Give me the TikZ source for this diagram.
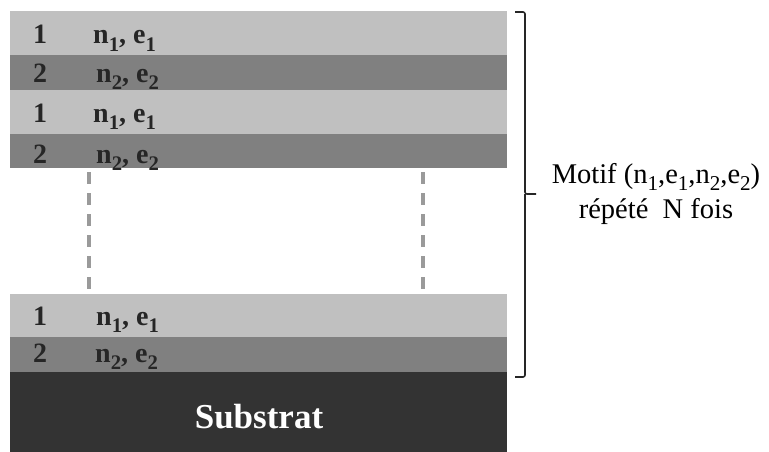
\documentclass[tikz,border=0pt]{standalone}
\usepackage{fontspec}
\usepackage{graphicx}
\setmainfont{Liberation Serif}
\definecolor{lightl}{HTML}{C0C0C0}
\definecolor{darkl}{HTML}{808080}
\definecolor{subc}{HTML}{333333}
\definecolor{dashc}{HTML}{9A9A9A}
\newcommand\lsub[1]{\raisebox{-0.27em}{\scalebox{0.74}{#1}}}
\begin{document}
\begin{tikzpicture}[x=1pt,y=-1pt,
  lab/.style={font=\fontsize{28}{32}\selectfont\bfseries, text=black!85, inner sep=0pt, anchor=base},
  labw/.style={lab, anchor=base west},
  dashl/.style={draw=dashc, line width=4.5pt, dash pattern=on 12pt off 9pt},
  side/.style={font=\fontsize{28.5}{32}\selectfont, inner sep=0pt, anchor=base, align=center}]
\useasboundingbox (0,0) rectangle (769,452);
% top group
\fill[lightl] (10,11) rectangle (507,55);
\fill[darkl] (10,55) rectangle (507,90);
\fill[lightl] (10,90) rectangle (507,134);
\fill[darkl] (10,134) rectangle (507,168);
% bottom group
\fill[lightl] (10,294) rectangle (507,337);
\fill[darkl] (10,337) rectangle (507,372);
\fill[subc] (10,372) rectangle (507,452);
% labels
\node[lab] (a1) at (40,44) {1};
\node[labw] (b1) at (93,44) {n\lsub{1}, e\lsub{1}};
\node[lab] (a2) at (40,82) {2};
\node[labw] (b2) at (96,82) {n\lsub{2}, e\lsub{2}};
\node[lab] (a3) at (40,122) {1};
\node[labw] (b3) at (93,122) {n\lsub{1}, e\lsub{1}};
\node[lab] (a4) at (40,163) {2};
\node[labw] (b4) at (96,163) {n\lsub{2}, e\lsub{2}};
\node[lab] (a5) at (40,325) {1};
\node[labw] (b5) at (96,325) {n\lsub{1}, e\lsub{1}};
\node[lab] (a6) at (40,362) {2};
\node[labw] (b6) at (95,362) {n\lsub{2}, e\lsub{2}};
\node[lab, text=white, font=\fontsize{35}{40}\selectfont\bfseries] (sub) at (259,428) {Substrat};
% dashed
\coordinate (d1a) at (89,172); \coordinate (d1b) at (89,293);
\coordinate (d2a) at (423,172); \coordinate (d2b) at (423,293);
\draw[dashl] (d1a) -- (d1b);
\draw[dashl] (d2a) -- (d2b);
% brace
\coordinate (bt) at (515,12); \coordinate (bb) at (515,377); \coordinate (tip) at (536,194);
\draw[line width=1.6pt, black!85, rounded corners=2pt] (bt) -- (525,12) -- (525,194) -- (tip);
\draw[line width=1.6pt, black!85, rounded corners=2pt] (525,194) -- (525,377) -- (bb);
% side text
\node[side] (m1) at (656,183) {Motif (n\lsub{1},e\lsub{1},n\lsub{2},e\lsub{2})};
\node[side] (m2) at (656,218) {répété~ N fois};
\end{tikzpicture}
\end{document}
